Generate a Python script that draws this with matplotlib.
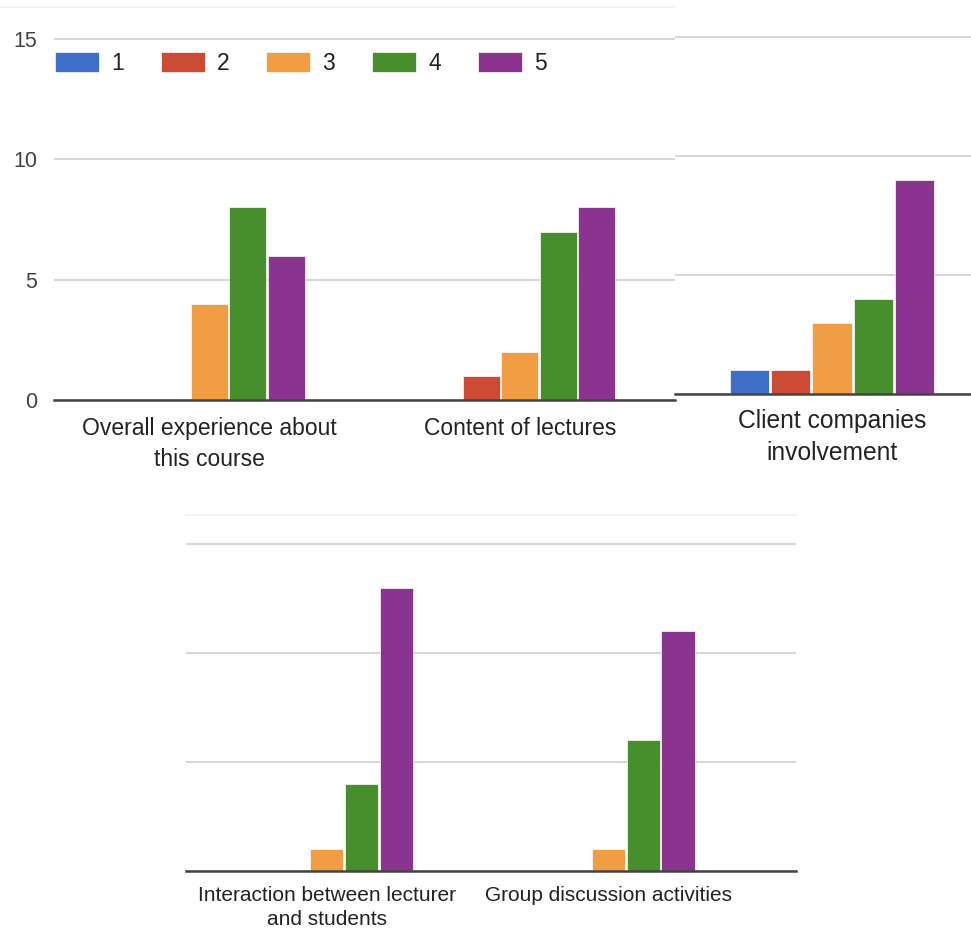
import matplotlib
matplotlib.use("Agg")
import matplotlib.pyplot as plt
from matplotlib.lines import Line2D

plt.rcParams["font.family"] = ["Liberation Sans", "DejaVu Sans"]

# Datos: respuestas por puntuación (1-5) para cada pregunta
puntuaciones = ["1", "2", "3", "4", "5"]
colores = ["#3f6fc8", "#cb4b34", "#f19d44", "#478f2c", "#8a3490"]

cat_panel1 = ["Overall experience about\nthis course", "Content of lectures"]
val_panel1 = [[0, 0, 4, 8, 6],
              [0, 1, 2, 7, 8]]

cat_panel2 = ["Client companies\ninvolvement"]
val_panel2 = [[1, 1, 3, 4, 9]]

cat_panel3 = ["Interaction between lecturer\nand students", "Group discussion activities"]
val_panel3 = [[0, 0, 1, 4, 13],
              [0, 0, 1, 6, 11]]

yticks = [0, 5, 10, 15]

W, H = 971, 931
fig = plt.figure(figsize=(W / 100, H / 100), dpi=100)
fig.patch.set_facecolor("white")

SLOT = 0.124
ANCHO = 0.118


def crear_ejes(izq, arriba, der, abajo):
    """Crea ejes a partir de coordenadas en pixeles (origen arriba-izquierda)"""
    return fig.add_axes([izq / W, 1 - abajo / H, (der - izq) / W, (abajo - arriba) / H])


def dibujar_panel(ax, categorias, valores, xlim, fs_cat, pad_cat, interlineado, con_yticks):
    barras = []
    for i, serie in enumerate(puntuaciones):
        xs = [j + (i - 2) * SLOT for j in range(len(categorias))]
        alturas = [fila[i] for fila in valores]
        b = ax.bar(xs, alturas, width=ANCHO, color=colores[i],
                   edgecolor="#ffffff", linewidth=0.5, label=serie, zorder=3)
        barras.append(b)
    ax.set_xlim(*xlim)
    ax.set_ylim(0, 15.3)
    ax.set_yticks(yticks)
    ax.grid(axis="y", color="#d6d6d6", linewidth=1.5, zorder=0)
    ax.set_axisbelow(True)
    for lado in ["top", "right", "left"]:
        ax.spines[lado].set_visible(False)
    ax.spines["bottom"].set_color("#444444")
    ax.spines["bottom"].set_linewidth(1.8)
    ax.spines["bottom"].set_zorder(4)
    ax.set_xticks(range(len(categorias)))
    ax.set_xticklabels(categorias, fontsize=fs_cat, color="#222222",
                       linespacing=interlineado)
    ax.tick_params(axis="x", length=0, pad=pad_cat)
    if con_yticks:
        ax.tick_params(axis="y", length=0, pad=12, labelsize=15.5, labelcolor="#444444")
    else:
        ax.tick_params(axis="y", length=0, labelleft=False)
    return barras


ax1 = crear_ejes(54, 400 - 15.3 * 24.07, 675, 400)
barras1 = dibujar_panel(ax1, cat_panel1, val_panel1, (-0.5, 1.5), 16.5, 12, 1.45, True)

ax2 = crear_ejes(675, 394 - 15.3 * 23.8, 971, 394)
dibujar_panel(ax2, cat_panel2, val_panel2, (-0.473, 0.419), 17.7, 11, 1.4, False)

ax3 = crear_ejes(186, 871 - 15.3 * 21.8, 796, 871)
dibujar_panel(ax3, cat_panel3, val_panel3, (-0.5, 1.667), 15, 11, 1.3, False)

# Leyenda arriba del primer panel
fig.legend(handles=barras1, labels=puntuaciones, loc="center left",
           bbox_to_anchor=(55 / W, 1 - 63 / H), ncol=5, frameon=False,
           fontsize=16.5, handlelength=1.92, handleheight=0.96,
           handletextpad=0.52, columnspacing=1.62, borderpad=0,
           borderaxespad=0, labelcolor="#222222")

# Bordes tenues de las capturas
fig.add_artist(Line2D([0, 675 / W], [1 - 7 / H, 1 - 7 / H], color="#f2f2f2", lw=1.5))
fig.add_artist(Line2D([186 / W, 796 / W], [1 - 515 / H, 1 - 515 / H], color="#f2f2f2", lw=1.5))

fig.savefig("out.png", dpi=100, facecolor="white")
